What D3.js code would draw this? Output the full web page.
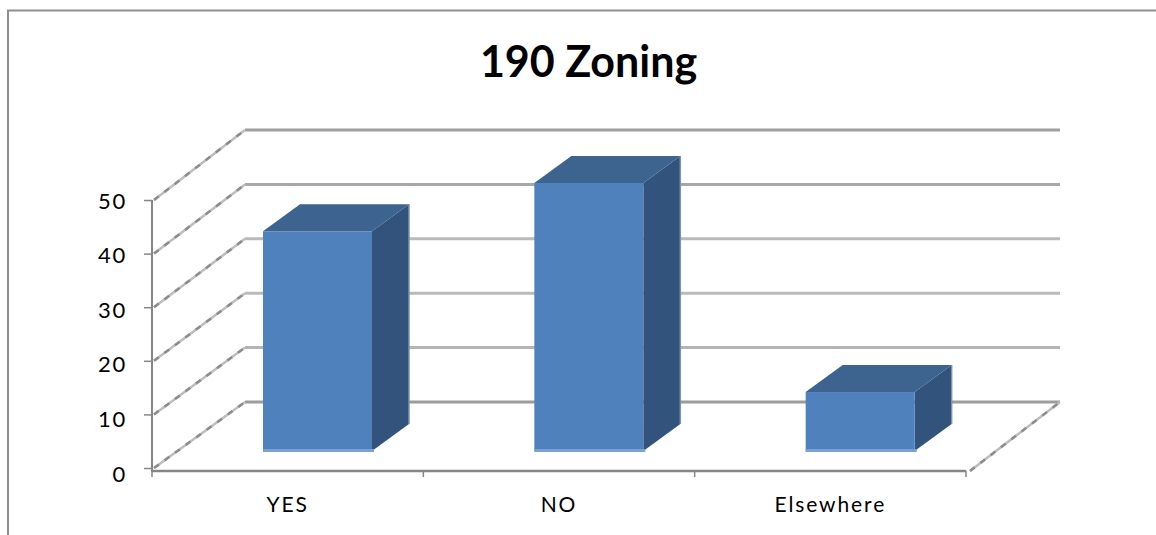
<!DOCTYPE html>
<html>
<head>
<meta charset="utf-8">
<script src="https://d3js.org/d3.v7.min.js"></script>
<style>
  html, body { margin: 0; padding: 0; background: #fff; overflow: hidden; }
  svg { display: block; }
  text { font-family: Lato, "Open Sans", sans-serif; fill: #000; }
</style>
</head>
<body>
<div id="chart-area"></div>
<script>
var titleText = '190 Zoning';
var categories = ['YES', 'NO', 'Elsewhere'];
var values = [41, 50, 11];
var yTicks = [0, 10, 20, 30, 40, 50];

var svg = d3.select('#chart-area').append('svg')
  .attr('width', 1156)
  .attr('height', 535);

// chart frame, only the top and left edges are in the picture
svg.append('path')
  .attr('d', 'M8,535V10.5H1156')
  .attr('fill', 'none')
  .attr('stroke', '#8e8e8e')
  .attr('stroke-width', 2);

svg.append('text')
  .attr('x', 588.5)
  .attr('y', 77)
  .attr('text-anchor', 'middle')
  .style('font-size', '43px')
  .style('font-weight', 700)
  .text(titleText);

var x = d3.scaleBand()
  .domain(categories)
  .range([152, 966]);

// front edge of the side wall
var y = d3.scaleLinear().domain([0, 50]).range([468, 200]);
// back wall
var yBack = d3.scaleLinear().domain([0, 50]).range([402, 130]);
// tick labels sit a little lower than the ticks towards the bottom
var yLabel = d3.scaleLinear().domain([0, 50]).range([473, 200]);

var backLeft = 245;
var backRight = 1060;

// gridlines on the back wall
var gridColor = d3.scaleOrdinal()
  .domain(yTicks)
  .range(['#9c9c9c', '#b4b4b4', '#bababa', '#bababa', '#a8a8a8', '#a0a0a0']);

svg.selectAll('.grid')
  .data(yTicks)
  .enter().append('line')
    .attr('class', 'grid')
    .attr('x1', backLeft)
    .attr('x2', backRight)
    .attr('y1', function(d) { return yBack(d); })
    .attr('y2', function(d) { return yBack(d); })
    .attr('stroke', function(d) { return gridColor(d); })
    .attr('stroke-width', 3);

// gridlines on the side wall, two layers to get the rough dithered look
svg.selectAll('.side-light')
  .data(yTicks)
  .enter().append('line')
    .attr('class', 'side-light')
    .attr('x1', x.range()[0] + 2)
    .attr('x2', backLeft)
    .attr('y1', function(d) { return y(d); })
    .attr('y2', function(d) { return yBack(d); })
    .attr('stroke', '#bdbdbd')
    .attr('stroke-width', 2.5);

svg.selectAll('.side-dark')
  .data(yTicks)
  .enter().append('line')
    .attr('class', 'side-dark')
    .attr('x1', x.range()[0] + 2)
    .attr('x2', backLeft)
    .attr('y1', function(d) { return y(d); })
    .attr('y2', function(d) { return yBack(d); })
    .attr('stroke', '#8c8c8c')
    .attr('stroke-width', 2.5)
    .attr('stroke-dasharray', '6 7');

// right edge of the floor
svg.append('line')
  .attr('x1', x.range()[1] + 4)
  .attr('x2', backRight)
  .attr('y1', 471)
  .attr('y2', yBack(0))
  .attr('stroke', '#bdbdbd')
  .attr('stroke-width', 2.5);

svg.append('line')
  .attr('x1', x.range()[1] + 4)
  .attr('x2', backRight)
  .attr('y1', 471)
  .attr('y2', yBack(0))
  .attr('stroke', '#8c8c8c')
  .attr('stroke-width', 2.5)
  .attr('stroke-dasharray', '6 7');

// axes
var yAxis = d3.axisLeft(y).tickValues(yTicks).tickSize(8).tickPadding(17);
var gy = svg.append('g')
  .attr('transform', 'translate(152,0)')
  .call(yAxis);

gy.select('.domain').attr('d', 'M0,200V472').attr('stroke', '#868686').attr('stroke-width', 2);
gy.selectAll('.tick line').attr('stroke', '#868686').attr('stroke-width', 1.5);
gy.selectAll('.tick text')
  .style('font-size', '22px')
  .style('font-family', 'Lato, sans-serif')
  .style('letter-spacing', '1.8px')
  .attr('fill', '#000')
  .attr('dy', function(d) { return yLabel(d) - y(d) + 8; });

var xAxis = d3.axisBottom(x).tickSize(6).tickPadding(20);
var gx = svg.append('g')
  .attr('transform', 'translate(0,471)')
  .call(xAxis);

gx.select('.domain').attr('d', 'M152,0H966').attr('stroke', '#868686').attr('stroke-width', 2.5);
gx.selectAll('.tick line').remove();

// axisBottom puts its ticks at band centres, the picture has them on band edges
gx.selectAll('.edge')
  .data(categories.concat(['end']))
  .enter().append('line')
    .attr('class', 'edge')
    .attr('x1', function(d, i) { return x.range()[0] + i * x.step(); })
    .attr('x2', function(d, i) { return x.range()[0] + i * x.step(); })
    .attr('y1', 0)
    .attr('y2', 6)
    .attr('stroke', '#868686')
    .attr('stroke-width', 1.5);

gx.selectAll('.tick text')
  .style('font-size', '21px')
  .style('font-family', 'Lato, sans-serif')
  .style('letter-spacing', '1.9px')
  .attr('fill', '#000');

// bars
var barWidth = 109;
var barInset = 111;   // from the band start to the front face
var barLift = 17;     // front face sits this far above the floor's front edge
var depthX = 37;
var depthY = 27;
var barHeight = function(v) { return y(0) - y(v); };
var baseY = y(0) - barLift;

var bars = svg.selectAll('.bar')
  .data(values)
  .enter().append('g')
    .attr('class', 'bar')
    .attr('transform', function(d, i) {
      return 'translate(' + (x(categories[i]) + barInset) + ',' + baseY + ')';
    });

bars.append('path')
  .attr('d', function(d) {
    return 'M' + barWidth + ',' + (-barHeight(d)) +
      'L' + (barWidth + depthX) + ',' + (-barHeight(d) - depthY) +
      'V' + (-depthY) +
      'L' + barWidth + ',0Z';
  })
  .attr('fill', '#32547c');

// thin pale edge along the back right of the side face
bars.append('line')
  .attr('x1', barWidth + depthX)
  .attr('x2', barWidth + depthX)
  .attr('y1', function(d) { return -barHeight(d) - depthY; })
  .attr('y2', -depthY)
  .attr('stroke', '#7f93ad')
  .attr('stroke-width', 1.5);

bars.append('path')
  .attr('d', function(d) {
    return 'M0,' + (-barHeight(d)) +
      'L' + depthX + ',' + (-barHeight(d) - depthY) +
      'H' + (barWidth + depthX) +
      'L' + barWidth + ',' + (-barHeight(d)) + 'Z';
  })
  .attr('fill', '#3c648f');

bars.append('rect')
  .attr('x', 0)
  .attr('y', function(d) { return -barHeight(d); })
  .attr('width', barWidth)
  .attr('height', function(d) { return barHeight(d); })
  .attr('fill', '#4f81bd');

bars.append('rect')
  .attr('x', 0)
  .attr('y', -2)
  .attr('width', barWidth + 2)
  .attr('height', 3)
  .attr('fill', '#7ba0d2');
</script>
</body>
</html>
